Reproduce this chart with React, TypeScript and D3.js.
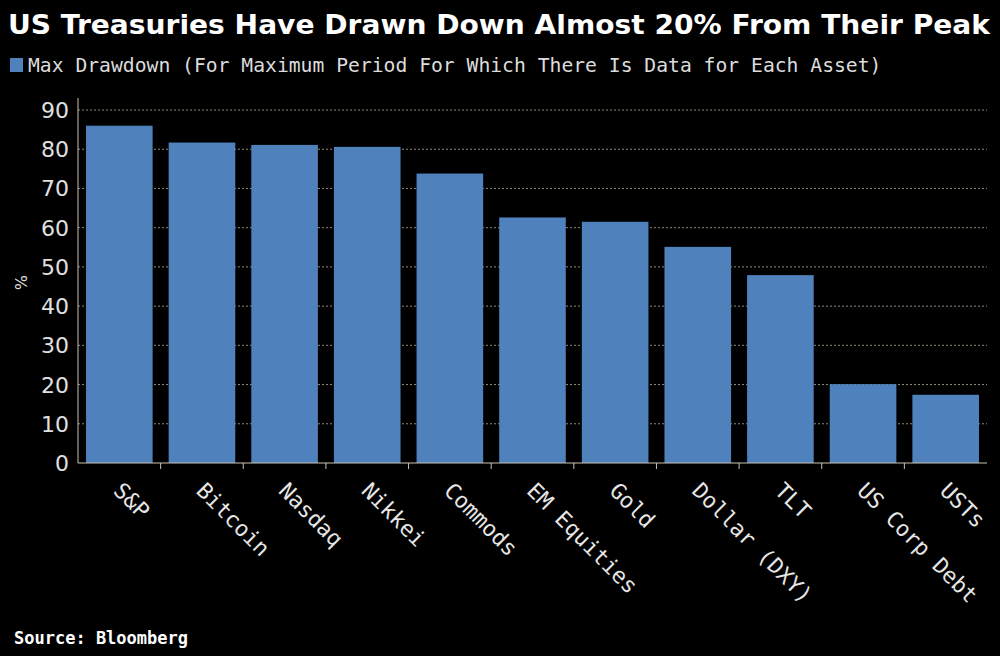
import React, { useEffect, useRef } from "react";
import * as d3 from "d3";

const assets = [
  "S&P",
  "Bitcoin",
  "Nasdaq",
  "Nikkei",
  "Commods",
  "EM Equities",
  "Gold",
  "Dollar (DXY)",
  "TLT",
  "US Corp Debt",
  "USTs",
];
const drawdown = [86.0, 81.7, 81.1, 80.6, 73.8, 62.6, 61.5, 55.1, 47.9, 20.1, 17.4];
const yTicks = [0, 10, 20, 30, 40, 50, 60, 70, 80, 90];

const App = () => {
  const ref = useRef<SVGSVGElement>(null);

  useEffect(() => {
    const width = 1000;
    const height = 656;
    const margin = { top: 110, left: 78, bottom: 193, right: 13 };
    const mono = "'DejaVu Sans Mono', monospace";

    const svg = d3.select(ref.current);
    svg.selectAll("*").remove();

    svg.append("rect").attr("width", width).attr("height", height).attr("fill", "#000");

    const x = d3
      .scaleBand()
      .domain(assets)
      .range([margin.left, width - margin.right])
      .paddingInner(0.194)
      .paddingOuter(0.097);

    const y = d3
      .scaleLinear()
      .domain([0, 90])
      .range([height - margin.bottom, margin.top]);

    // grid lines behind bars
    svg
      .append("g")
      .selectAll("line")
      .data(yTicks.filter((d) => d > 0))
      .enter()
      .append("line")
      .attr("x1", margin.left)
      .attr("x2", width - margin.right)
      .attr("y1", (d) => y(d))
      .attr("y2", (d) => y(d))
      .attr("stroke", "#948a76")
      .attr("stroke-width", 1)
      .attr("stroke-dasharray", "2,2");

    svg
      .append("g")
      .selectAll("rect")
      .data(assets)
      .enter()
      .append("rect")
      .attr("x", (d) => x(d)!)
      .attr("width", x.bandwidth())
      .attr("y", (d, i) => y(drawdown[i]))
      .attr("height", (d, i) => y(0) - y(drawdown[i]))
      .attr("fill", "#4f81bd");

    // axes
    const axisColor = "#c9c2b4";
    svg
      .append("line")
      .attr("x1", margin.left)
      .attr("x2", margin.left)
      .attr("y1", margin.top - 12)
      .attr("y2", y(0))
      .attr("stroke", axisColor);
    svg
      .append("line")
      .attr("x1", margin.left)
      .attr("x2", width - margin.right)
      .attr("y1", y(0))
      .attr("y2", y(0))
      .attr("stroke", axisColor);

    const step = x.step();
    svg
      .append("g")
      .selectAll("line")
      .data(assets.slice(1))
      .enter()
      .append("line")
      .attr("x1", (d) => x(d)! - (step - x.bandwidth()) / 2)
      .attr("x2", (d) => x(d)! - (step - x.bandwidth()) / 2)
      .attr("y1", y(0))
      .attr("y2", y(0) + 6)
      .attr("stroke", axisColor);

    svg
      .append("g")
      .selectAll("text")
      .data(yTicks)
      .enter()
      .append("text")
      .text((d) => d)
      .attr("x", margin.left - 9)
      .attr("y", (d) => y(d) + 8)
      .attr("text-anchor", "end")
      .attr("fill", "#e0e0e0")
      .attr("font-family", "'DejaVu Sans', sans-serif")
      .attr("font-size", "22px");

    svg
      .append("text")
      .text("%")
      .attr("transform", `translate(15, ${y(46)}) rotate(90)`)
      .attr("text-anchor", "middle")
      .attr("fill", "#e0e0e0")
      .attr("font-family", "'DejaVu Sans', sans-serif")
      .attr("font-size", "16px");

    // category labels
    svg
      .append("g")
      .selectAll("text")
      .data(assets)
      .enter()
      .append("text")
      .text((d) => d)
      .attr("transform", (d) => `translate(${x(d)! + x.bandwidth() / 2 - 7}, ${y(0) + 29}) rotate(45)`)
      .attr("fill", "#e6e6e6")
      .attr("font-family", mono)
      .attr("font-size", "22px");

    // title and legend
    svg
      .append("text")
      .text("US Treasuries Have Drawn Down Almost 20% From Their Peak")
      .attr("x", 8)
      .attr("y", 34)
      .attr("fill", "#ffffff")
      .attr("font-family", "'DejaVu Sans', sans-serif")
      .attr("font-weight", "bold")
      .attr("font-size", "27px")
      .attr("textLength", 982)
      .attr("lengthAdjust", "spacingAndGlyphs");

    svg
      .append("rect")
      .attr("x", 10)
      .attr("y", 58)
      .attr("width", 13)
      .attr("height", 14)
      .attr("fill", "#4f81bd");
    svg
      .append("text")
      .text("Max Drawdown (For Maximum Period For Which There Is Data for Each Asset)")
      .attr("x", 28)
      .attr("y", 72)
      .attr("fill", "#dcdcdc")
      .attr("font-family", mono)
      .attr("font-size", "19.7px");

    svg
      .append("text")
      .text("Source: Bloomberg")
      .attr("x", 14)
      .attr("y", 644)
      .attr("fill", "#ffffff")
      .attr("font-family", mono)
      .attr("font-weight", "bold")
      .attr("font-size", "17px");
  }, []);

  return (
    <svg
      ref={ref}
      width={1000}
      height={656}
      style={{ position: "absolute", top: 0, left: 0, display: "block" }}
    />
  );
};

export default App;
